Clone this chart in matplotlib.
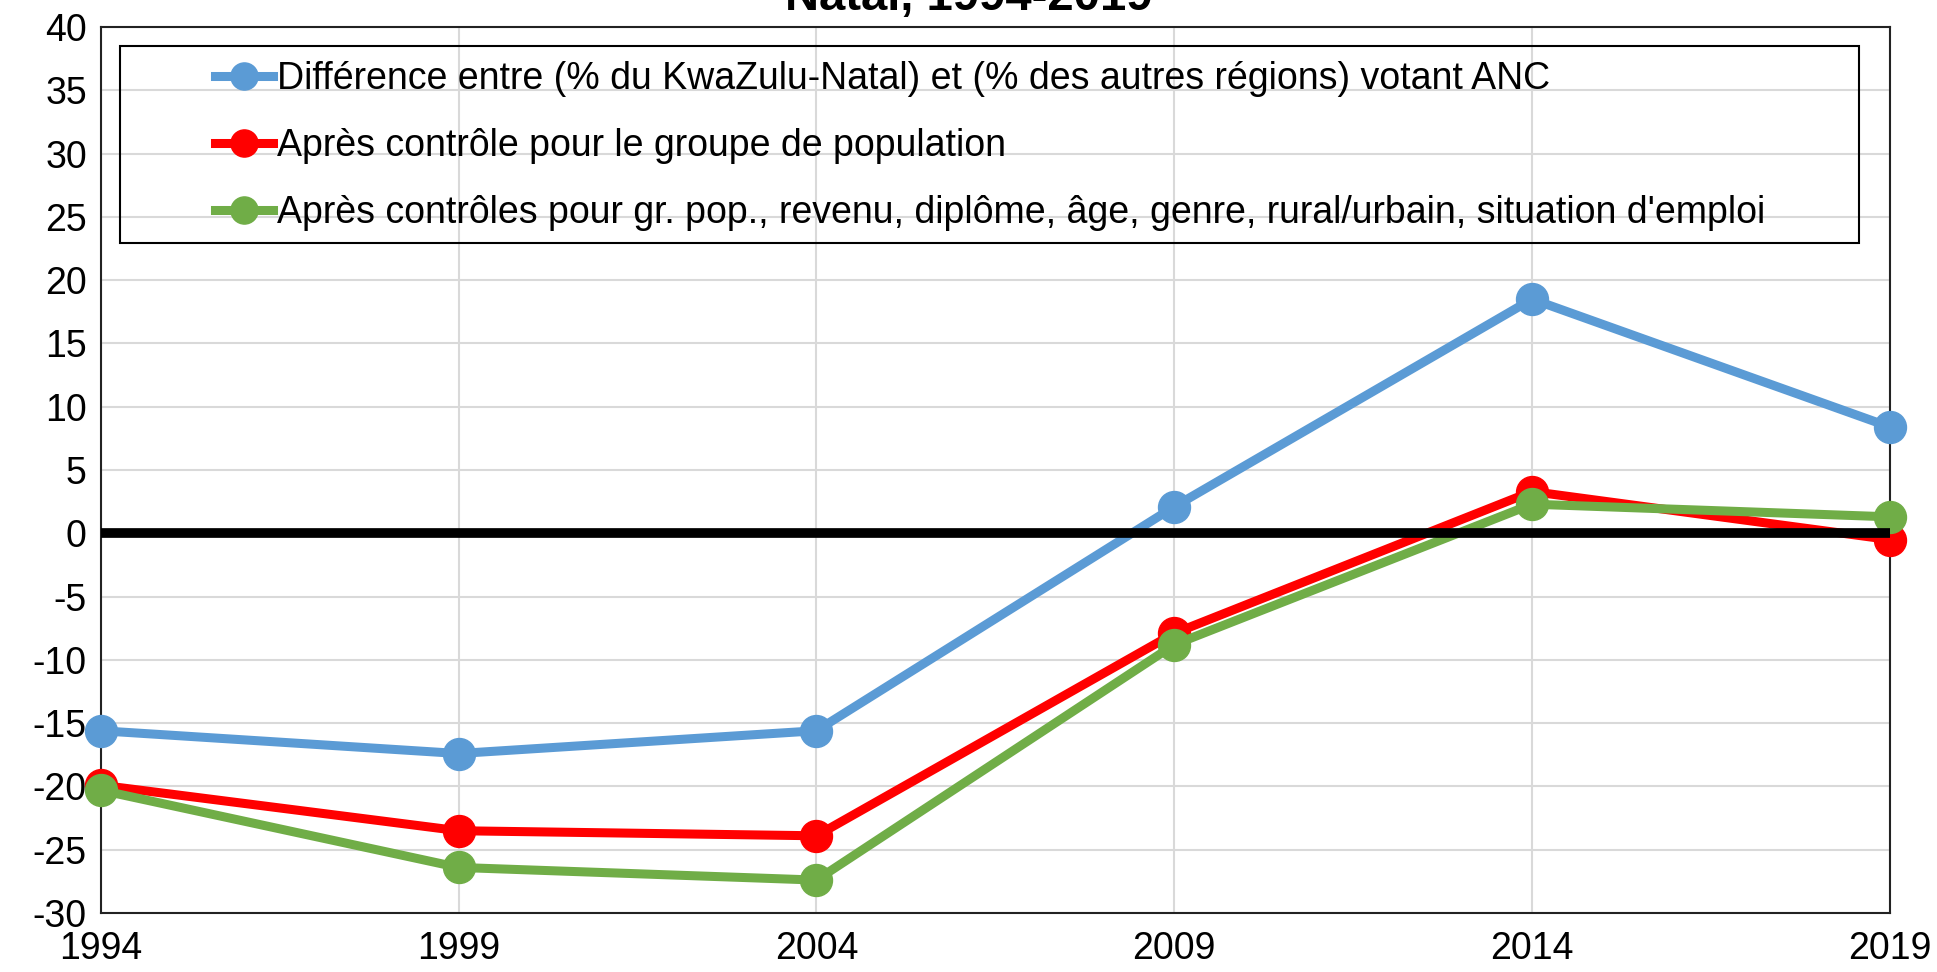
import matplotlib
matplotlib.use("Agg")
import matplotlib.pyplot as plt
from matplotlib.patches import Rectangle

plt.rcParams['font.family'] = ['Liberation Sans', 'DejaVu Sans']
plt.rcParams['axes.unicode_minus'] = False

annees = [1994, 1999, 2004, 2009, 2014, 2019]
ecart_brut = [-15.6, -17.4, -15.6, 2.1, 18.5, 8.4]
ecart_pop = [-19.9, -23.5, -23.9, -7.9, 3.3, -0.5]
ecart_complet = [-20.3, -26.4, -27.4, -8.8, 2.3, 1.3]

libelles = [
    "Différence entre (% du KwaZulu-Natal) et (% des autres régions) votant ANC",
    "Après contrôle pour le groupe de population",
    "Après contrôles pour gr. pop., revenu, diplôme, âge, genre, rural/urbain, situation d'emploi",
]
couleurs = ['#5B9BD5', '#FF0000', '#70AD47']

fig = plt.figure(figsize=(19.37, 9.72), dpi=100)
ax = fig.add_axes([0.052, 0.0607, 0.9237, 0.9115])

for serie, lab, col in zip([ecart_brut, ecart_pop, ecart_complet], libelles, couleurs):
    ax.plot(annees, serie, color=col, lw=6.5, marker='o', ms=23, label=lab, zorder=3,
            clip_on=False)

ax.axhline(0, color='black', lw=7, zorder=4)

ax.set_xlim(1994, 2019)
ax.set_ylim(-30, 40)
ax.set_xticks(annees)
ax.set_yticks(range(-30, 41, 5))
ax.tick_params(axis='both', length=0, labelsize=27)
ax.tick_params(axis='x', pad=13)
ax.tick_params(axis='y', pad=10)
ax.grid(True, color='#d9d9d9', lw=1.5, zorder=0)
for s in ax.spines.values():
    s.set_color('#222222')
    s.set_linewidth(1.5)

ax.add_patch(Rectangle((0.0106, 0.756), 0.972, 0.2226, transform=ax.transAxes,
                       fill=False, edgecolor='black', lw=1.5, zorder=5))
ax.legend(loc='center left', bbox_to_anchor=(0.064, 0.8655), frameon=False,
          fontsize=27, handlelength=1.55, handletextpad=0.1, labelspacing=0.82,
          borderpad=0, borderaxespad=0, markerscale=0.85)

fig.text(0.5, 0.9897, "Natal, 1994-2019", ha='center', va='baseline',
         fontsize=34, fontweight='bold')

fig.savefig("out.png", dpi=100)
